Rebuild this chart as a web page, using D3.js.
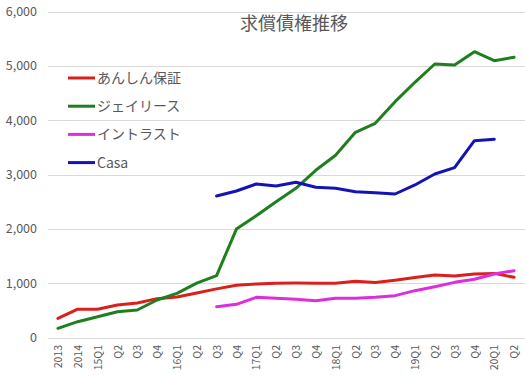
<!DOCTYPE html>
<html>
<head>
<meta charset="utf-8">
<script src="https://cdn.jsdelivr.net/npm/d3@7/dist/d3.min.js"></script>
<style>
  body { margin: 0; background: #fff; }
  text { font-family: "Noto Sans CJK JP", "Noto Sans", sans-serif; fill: #595959; }
</style>
</head>
<body>
<div id="chart"></div>
<script>
    "use strict";

    var categories = ["2013", "2014", "15Q1", "Q2", "Q3", "Q4", "16Q1", "Q2", "Q3", "Q4",
        "17Q1", "Q2", "Q3", "Q4", "18Q1", "Q2", "Q3", "Q4", "19Q1", "Q2", "Q3", "Q4", "20Q1", "Q2"];

    var anshin = [353, 522, 519, 598, 635, 715, 745, 820, 895, 962, 985, 1000,
        1003, 1000, 997, 1035, 1012, 1055, 1105, 1150, 1130, 1168, 1180, 1108];
    var jlease = [169, 291, 383, 475, 506, 690, 813, 1000, 1140, 1995, 2240, 2500,
        2746, 3077, 3353, 3776, 3942, 4340, 4697, 5034, 5015, 5261, 5095, 5157];
    var intrust = [null, null, null, null, null, null, null, null, 567, 611, 740, 722,
        703, 677, 721, 721, 740, 770, 862, 935, 1015, 1071, 1169, 1230];
    var casa = [null, null, null, null, null, null, null, null, 2604, 2696, 2825, 2788,
        2856, 2764, 2746, 2684, 2666, 2641, 2807, 3009, 3126, 3622, 3648, null];

    var seriesNames = ["あんしん保証", "ジェイリース", "イントラスト", "Casa"];
    var seriesColors = ["#d9201c", "#1f7f1f", "#dd2edd", "#1414b4"];
    var yTicks = [0, 1000, 2000, 3000, 4000, 5000, 6000];

    var series = [anshin, jlease, intrust, casa].map(function (vals, i) {
        return { name: seriesNames[i], color: seriesColors[i], values: vals };
    });

    var width = 525, height = 377;

    var svg = d3.select("#chart")
        .append("svg")
        .attr("width", width)
        .attr("height", height);

    var x = d3.scalePoint()
        .domain(d3.range(categories.length))
        .range([48, 524])
        .padding(0.5);

    var y = d3.scaleLinear()
        .domain([0, 6000])
        .range([337.5, 11.5]);

    // gridlines
    svg.append("g")
        .selectAll("line")
        .data(yTicks)
        .enter()
        .append("line")
        .attr("x1", 48)
        .attr("x2", 525)
        .attr("y1", function (d) { return Math.round(y(d)) + 0.5; })
        .attr("y2", function (d) { return Math.round(y(d)) + 0.5; })
        .attr("stroke", "#d9d9d9")
        .attr("stroke-width", 1);

    // y axis labels
    var yAxis = d3.axisLeft(y)
        .tickValues(yTicks)
        .tickFormat(d3.format(","))
        .tickSize(0)
        .tickPadding(0);

    svg.append("g")
        .attr("transform", "translate(37,0)")
        .call(yAxis)
        .call(function (g) { g.select(".domain").remove(); })
        .selectAll("text")
        .attr("font-size", "12.5px")
        .attr("font-family", "'Open Sans', sans-serif")
        .attr("fill", "#595959");

    // x axis labels
    var xAxis = d3.axisBottom(x)
        .tickFormat(function (i) { return categories[i]; })
        .tickSize(0)
        .tickPadding(0);

    svg.append("g")
        .attr("transform", "translate(0,345)")
        .call(xAxis)
        .call(function (g) { g.select(".domain").remove(); })
        .selectAll("text")
        .attr("font-size", "10.5px")
        .attr("font-family", "'Open Sans', sans-serif")
        .attr("fill", "#595959")
        .attr("text-anchor", "end")
        .attr("dy", "0.35em")
        .attr("transform", "rotate(-90)");

    // lines
    var line = d3.line()
        .defined(function (d) { return d != null; })
        .x(function (d, i) { return x(i); })
        .y(function (d) { return y(d); });

    svg.append("g")
        .selectAll("path")
        .data(series)
        .enter()
        .append("path")
        .attr("d", function (d) { return line(d.values); })
        .attr("fill", "none")
        .attr("stroke", function (d) { return d.color; })
        .attr("stroke-width", 3)
        .attr("stroke-linejoin", "round")
        .attr("stroke-linecap", "round");

    // title
    svg.append("text")
        .attr("x", 294)
        .attr("y", 30)
        .attr("text-anchor", "middle")
        .attr("font-size", "18px")
        .text("求償債権推移");

    // legend
    var legend = svg.append("g")
        .selectAll("g")
        .data(series)
        .enter()
        .append("g")
        .attr("transform", function (d, i) { return "translate(68," + (78 + i * 28.2) + ")"; });

    legend.append("line")
        .attr("x1", 0)
        .attr("x2", 27)
        .attr("stroke", function (d) { return d.color; })
        .attr("stroke-width", 3);

    legend.append("text")
        .attr("x", 29)
        .attr("dy", "0.35em")
        .attr("font-size", "14px")
        .text(function (d) { return d.name; });
</script>
</body>
</html>
